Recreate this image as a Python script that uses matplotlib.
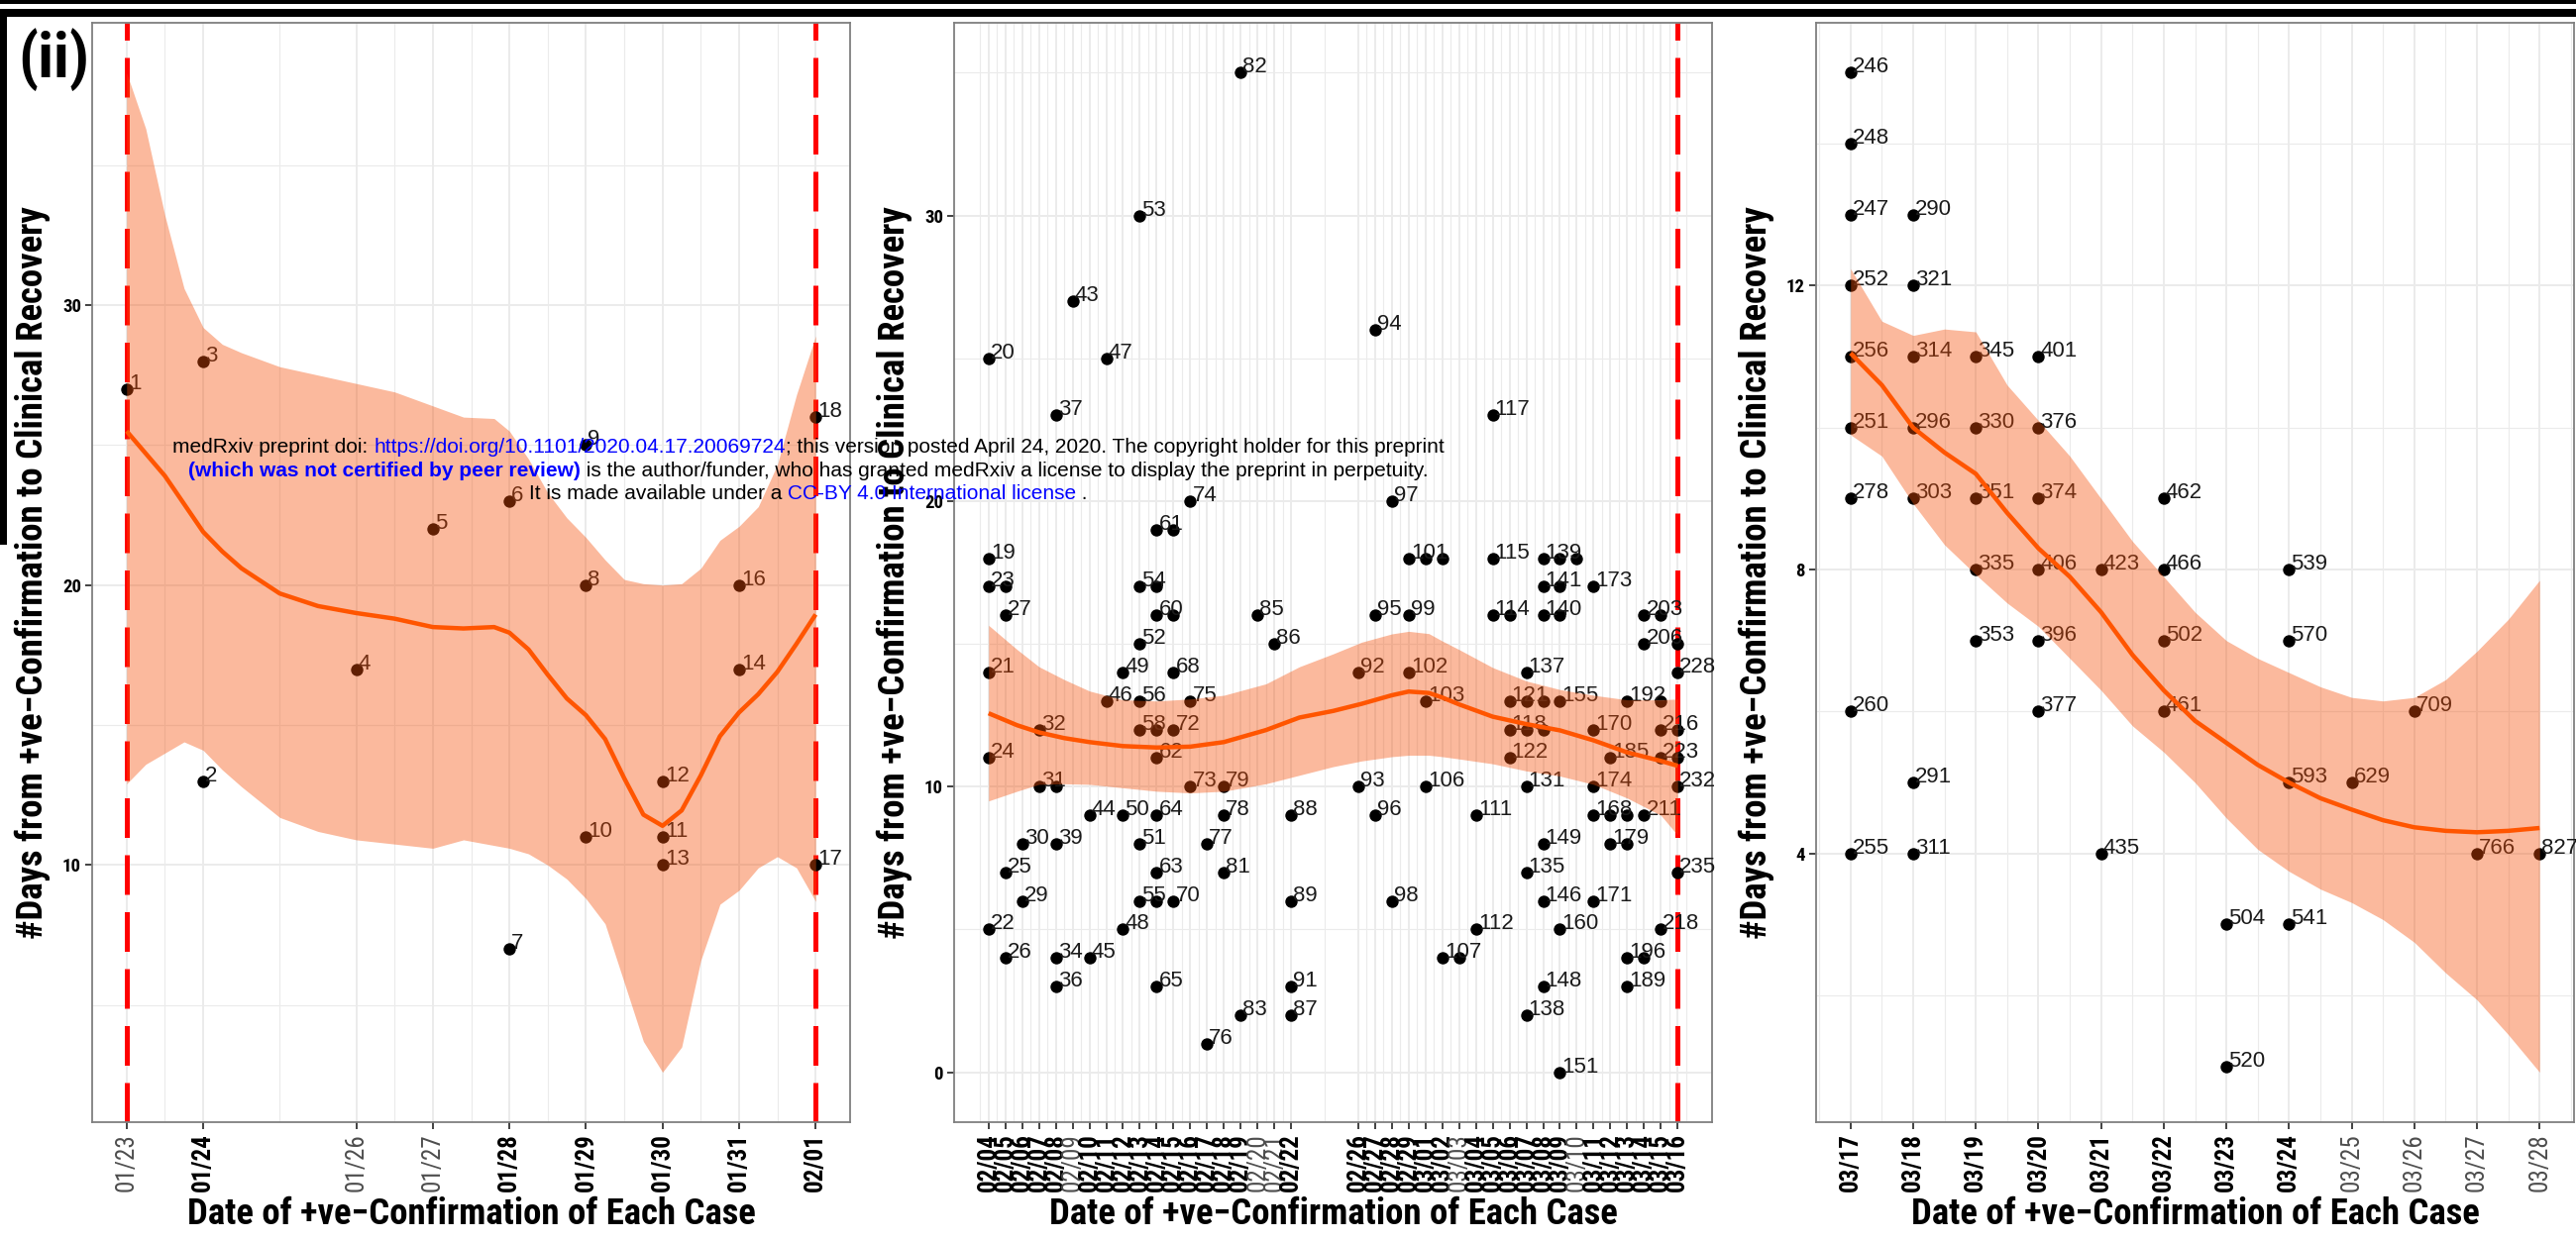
import matplotlib
matplotlib.use("Agg")
import matplotlib.pyplot as plt
import numpy as np
import pandas as pd
from matplotlib.patches import Rectangle

plt.rcParams["font.family"] = ["Liberation Sans", "DejaVu Sans"]
NARROW = ["Roboto Condensed", "Liberation Sans", "DejaVu Sans"]

W, H = 2600, 1254
YEAR = "2020/"

# ---------------- panel 1: cases confirmed 01/23 - 02/01 ----------------
p1_dates = ["01/23", "01/24", "01/24", "01/26", "01/27", "01/28", "01/28", "01/29", "01/29",
            "01/29", "01/30", "01/30", "01/30", "01/31", "01/31", "02/01", "02/01"]
p1_days = [27, 28, 13, 17, 22, 23, 7, 25, 20, 11, 13, 11, 10, 20, 17, 26, 10]
p1_case = ["1", "3", "2", "4", "5", "6", "7", "9", "8", "10", "12", "11", "13", "16", "14",
           "18", "17"]
# loess fit + 95% band (x = days after first date)
p1_sx = [0, 0.25, 0.5, 0.75, 1, 1.25, 1.5, 2, 2.5, 3, 3.5, 4, 4.4, 4.8, 5, 5.25, 5.5, 5.75,
         6, 6.25, 6.5, 6.75, 7, 7.25, 7.5, 7.75, 8, 8.25, 8.5, 8.75, 9]
p1_fit = [25.5, 24.7, 23.9, 22.9, 21.9, 21.2, 20.6, 19.7, 19.25, 19.0, 18.8, 18.5, 18.45,
          18.5, 18.3, 17.7, 16.8, 15.95, 15.35, 14.5, 13.1, 11.8, 11.4, 11.95, 13.2, 14.6,
          15.45, 16.1, 16.9, 17.9, 18.95]
p1_hi = [38.3, 36.3, 33.2, 30.6, 29.2, 28.6, 28.3, 27.8, 27.5, 27.2, 26.9, 26.4, 26.0, 25.95,
         25.5, 24.5, 23.3, 22.4, 21.7, 20.9, 20.2, 20.05, 20.0, 20.05, 20.6, 21.6, 22.1, 22.8,
         24.3, 26.8, 28.9]
p1_lo = [12.9, 13.6, 14.0, 14.4, 14.1, 13.4, 12.8, 11.7, 11.2, 10.9, 10.75, 10.6, 10.9, 10.7,
         10.6, 10.4, 10.0, 9.5, 8.8, 7.9, 5.8, 3.7, 2.6, 3.5, 6.6, 8.6, 9.1, 9.9, 10.3, 9.9,
         8.7]
p1_vlines = ["01/23", "02/01"]
p1_yticks = [10, 20, 30]

# ---------------- panel 2: cases confirmed 02/04 - 03/16 ----------------
p2_dates = (["02/04"] * 6 + ["02/05"] * 4 + ["02/06"] * 2 + ["02/07"] * 2 + ["02/08"] * 5
            + ["02/09"] + ["02/10"] * 2 + ["02/11"] * 2 + ["02/12"] * 3 + ["02/13"] * 7
            + ["02/14"] * 9 + ["02/15"] * 5 + ["02/16"] * 3 + ["02/17"] * 2 + ["02/18"] * 3
            + ["02/19"] * 2 + ["02/20"] + ["02/21"] + ["02/22"] * 4
            + ["02/26"] * 2 + ["02/27"] * 3 + ["02/28"] * 2 + ["02/29"] * 3 + ["03/01"] * 3
            + ["03/02"] * 2 + ["03/03"] + ["03/04"] * 2 + ["03/05"] * 3 + ["03/06"] * 4
            + ["03/07"] * 6 + ["03/08"] * 8 + ["03/09"] * 6 + ["03/10"] + ["03/11"] * 5
            + ["03/12"] * 3 + ["03/13"] * 5 + ["03/14"] * 4 + ["03/15"] * 5 + ["03/16"] * 6)
p2_days = ([25, 18, 17, 14, 11, 5] + [17, 16, 7, 4] + [8, 6] + [12, 10] + [23, 10, 8, 4, 3]
           + [27] + [9, 4] + [25, 13] + [14, 9, 5] + [30, 17, 15, 13, 12, 8, 6]
           + [19, 17, 16, 12, 11, 9, 7, 6, 3] + [19, 16, 14, 12, 6] + [20, 13, 10] + [8, 1]
           + [10, 9, 7] + [35, 2] + [16] + [15] + [9, 6, 3, 2]
           + [14, 10] + [26, 16, 9] + [20, 6] + [18, 16, 14] + [18, 13, 10]
           + [18, 4] + [4] + [9, 5] + [23, 18, 16] + [16, 13, 12, 11]
           + [14, 13, 12, 10, 7, 2] + [18, 17, 16, 13, 12, 8, 6, 3] + [18, 17, 16, 13, 5, 0]
           + [18] + [17, 12, 10, 9, 6] + [11, 9, 8] + [13, 9, 8, 4, 3] + [16, 15, 9, 4]
           + [16, 13, 12, 11, 5] + [15, 14, 12, 11, 10, 7])
p2_case = (["20", "19", "23", "21", "24", "22"] + ["", "27", "25", "26"] + ["30", "29"]
           + ["32", "31"] + ["37", "", "39", "34", "36"] + ["43"] + ["44", "45"] + ["47", "46"]
           + ["49", "50", "48"] + ["53", "54", "52", "56", "58", "51", "55"]
           + ["61", "", "60", "", "62", "64", "63", "", "65"] + ["", "", "68", "72", "70"]
           + ["74", "75", "73"] + ["77", "76"] + ["79", "78", "81"] + ["82", "83"] + ["85"]
           + ["86"] + ["88", "89", "91", "87"]
           + ["92", "93"] + ["94", "95", "96"] + ["97", "98"] + ["101", "99", "102"]
           + ["", "103", "106"] + ["", "107"] + [""] + ["111", "112"] + ["117", "115", "114"]
           + ["", "121", "118", "122"] + ["137", "", "", "131", "135", "138"]
           + ["139", "141", "140", "", "", "149", "146", "148"]
           + ["", "", "", "155", "160", "151"] + [""] + ["173", "170", "174", "168", "171"]
           + ["185", "", "179"] + ["192", "", "", "196", "189"] + ["203", "206", "211", ""]
           + ["", "", "216", "223", "218"] + ["", "228", "", "", "232", "235"])
p2_sx = [0, 1.7, 3, 4.5, 6, 8, 10, 12, 14, 16.5, 18.5, 20.5, 22.2, 24, 25, 26.2, 27, 28, 30,
         32, 34, 36, 38, 40, 41]
p2_fit = [12.57, 12.15, 11.9, 11.7, 11.56, 11.42, 11.37, 11.4, 11.56, 11.98, 12.42, 12.65,
          12.9, 13.2, 13.33, 13.28, 13.12, 12.88, 12.45, 12.19, 11.97, 11.62, 11.2, 10.9, 10.73]
p2_hi = [15.65, 14.8, 14.2, 13.75, 13.35, 13.04, 13.0, 13.07, 13.2, 13.6, 14.2, 14.65, 15.06,
         15.35, 15.44, 15.36, 15.1, 14.8, 14.17, 13.7, 13.4, 13.2, 13.04, 13.04, 13.07]
p2_lo = [9.5, 9.84, 10.08, 10.1, 10.08, 9.96, 9.84, 9.78, 9.84, 10.1, 10.4, 10.7, 10.9, 11.05,
         11.1, 11.1, 11.05, 10.97, 10.8, 10.55, 10.37, 10.08, 9.6, 9.0, 8.3]
p2_vlines = ["03/16"]
p2_yticks = [0, 10, 20, 30]

# ---------------- panel 3: cases confirmed 03/17 - 03/28 ----------------
p3_dates = (["03/17"] * 9 + ["03/18"] * 7 + ["03/19"] * 5 + ["03/20"] * 6 + ["03/21"] * 2
            + ["03/22"] * 4 + ["03/23"] * 2 + ["03/24"] * 4 + ["03/25", "03/26", "03/27",
                                                              "03/28"])
p3_days = ([15, 14, 13, 12, 11, 10, 9, 6, 4] + [13, 12, 11, 10, 9, 5, 4] + [11, 10, 9, 8, 7]
           + [11, 10, 9, 8, 7, 6] + [8, 4] + [9, 8, 7, 6] + [3, 1] + [8, 7, 5, 3] + [5, 6, 4, 4])
p3_case = (["246", "248", "247", "252", "256", "251", "278", "260", "255"]
           + ["290", "321", "314", "296", "303", "291", "311"]
           + ["345", "330", "351", "335", "353"] + ["401", "376", "374", "406", "396", "377"]
           + ["423", "435"] + ["462", "466", "502", "461"] + ["504", "520"]
           + ["539", "570", "593", "541"] + ["629", "709", "766", "827"])
p3_sx = [0, 0.5, 1, 1.5, 2, 2.5, 3, 3.5, 4, 4.5, 5, 5.5, 6, 6.5, 7, 7.5, 8, 8.5, 9, 9.5, 10,
         10.5, 11]
p3_fit = [11.05, 10.6, 10.0, 9.65, 9.35, 8.8, 8.3, 7.9, 7.4, 6.8, 6.3, 5.87, 5.56, 5.25, 5.0,
          4.78, 4.62, 4.47, 4.37, 4.32, 4.3, 4.32, 4.36]
p3_hi = [12.24, 11.5, 11.3, 11.39, 11.35, 10.6, 10.1, 9.6, 9.0, 8.4, 7.9, 7.4, 7.0, 6.75, 6.55,
         6.35, 6.2, 6.15, 6.2, 6.45, 6.85, 7.3, 7.85]
p3_lo = [9.9, 9.6, 8.93, 8.35, 7.93, 7.53, 7.2, 6.75, 6.3, 5.8, 5.43, 5.0, 4.5, 4.06, 3.75, 3.5,
         3.31, 3.07, 2.75, 2.32, 1.94, 1.45, 0.92]
p3_vlines = []
p3_yticks = [4, 8, 12]

XLABEL = "Date of +ve\u2212Confirmation of Each Case"
YLABEL = "#Days from +ve\u2212Confirmation to Clinical Recovery"


def to_offset(dates, start):
    d = pd.to_datetime([YEAR + s for s in dates])
    return np.asarray((d - pd.Timestamp(YEAR + start)).days, dtype=float)


def mid_breaks(b, lo, hi):
    b = np.asarray(b, dtype=float)
    bd = b[1] - b[0]
    ext = np.concatenate([[b[0] - bd], b, [b[-1] + bd]])
    mids = (ext[:-1] + ext[1:]) / 2
    return mids[(mids > lo) & (mids < hi)]


def draw_panel(ax, dates, days, cases, sx, sfit, slo, shi, vdates, yticks):
    start = min(dates)
    x = to_offset(dates, start)

    xa = np.concatenate([x, sx])
    pad = 0.05 * (xa.max() - xa.min())
    xlim = (xa.min() - pad, xa.max() + pad)
    ya = np.concatenate([days, slo, shi])
    pad = 0.05 * (ya.max() - ya.min())
    ylim = (ya.min() - pad, ya.max() + pad)

    for v in to_offset(vdates, start) if vdates else []:
        ax.axvline(v, color="#FF0000", lw=3.6, dashes=(8, 3.5), zorder=2.5)

    ax.scatter(x, days, s=80, c="black", linewidths=0, zorder=3)
    for xi, yi, c in zip(x, days, cases):
        if c:
            ax.annotate(c, (xi, yi), xytext=(1.5, 0), textcoords="offset points",
                        ha="left", va="baseline", fontsize=16, color="#1a1a1a", zorder=4)

    ax.fill_between(sx, slo, shi, color="#F5500A", alpha=0.4, lw=0, zorder=5)
    ax.plot(sx, sfit, color="#FF5500", lw=3.2, zorder=6, solid_capstyle="butt")

    uniq = sorted(set(dates))
    pos = to_offset(uniq, start)
    counts = [dates.count(u) for u in uniq]
    ax.set_xticks(pos)
    ax.set_xticklabels(uniq, rotation=90, fontsize=18, family=NARROW)
    for lab, n in zip(ax.get_xticklabels(), counts):
        lab.set_fontweight("bold" if n > 1 else "normal")
        lab.set_color("black" if n > 1 else "#4d4d4d")
    ax.set_xticks(mid_breaks(pos, *xlim), minor=True)
    ax.set_yticks(yticks)
    ax.set_yticklabels([str(t) for t in yticks], fontsize=13.5, fontweight="bold",
                       family=NARROW)
    ax.set_yticks(mid_breaks(yticks, *ylim), minor=True)
    ax.set_xlim(xlim)
    ax.set_ylim(ylim)

    ax.grid(which="major", color="#EBEBEB", lw=1.4)
    ax.grid(which="minor", color="#EBEBEB", lw=0.8)
    ax.set_axisbelow(True)
    ax.tick_params(which="major", length=5, width=1.3, color="#333333", pad=3)
    ax.tick_params(which="minor", length=0)
    for s in ax.spines.values():
        s.set_color("#7f7f7f")
        s.set_linewidth(1.3)

    ax.set_xlabel(XLABEL, fontsize=26.5, fontweight="bold", family=NARROW)
    ax.set_ylabel(YLABEL, fontsize=26.5, fontweight="bold", family=NARROW)
    ax.xaxis.label.set_va("center")
    ax.yaxis.label.set_va("center")
    ax.xaxis.set_label_coords(0.5, -(1226 - 1133) / 1110)
    ax.yaxis.set_label_coords(-60 / 765, 0.5)


fig = plt.figure(figsize=(W / 100, H / 100), dpi=100)
panels = [
    (93, p1_dates, p1_days, p1_case, p1_sx, p1_fit, p1_lo, p1_hi, p1_vlines, p1_yticks),
    (963, p2_dates, p2_days, p2_case, p2_sx, p2_fit, p2_lo, p2_hi, p2_vlines, p2_yticks),
    (1833, p3_dates, p3_days, p3_case, p3_sx, p3_fit, p3_lo, p3_hi, p3_vlines, p3_yticks),
]
for left, *args in panels:
    ax = fig.add_axes([left / W, (H - 1133) / H, 765 / W, 1110 / H])
    draw_panel(ax, *args)

# frame remnants of the source page
fig.add_artist(Rectangle((0, 1 - 4 / H), 1, 4 / H, transform=fig.transFigure,
                         color="black", lw=0, zorder=10))
fig.add_artist(Rectangle((0, 1 - 17 / H), 1, 8 / H, transform=fig.transFigure,
                         color="black", lw=0, zorder=10))
fig.add_artist(Rectangle((0, 1 - 550 / H), 7 / W, 533 / H, transform=fig.transFigure,
                         color="black", lw=0, zorder=10))

fig.text(18 / W, 1 - 60 / H, "(ii)", fontsize=45, fontweight="bold", family=NARROW,
         va="center", ha="left", zorder=11)

# medRxiv watermark
BLUE = "#0000FF"
header = [
    [("medRxiv preprint doi: ", "black", "normal"),
     ("https://doi.org/10.1101/2020.04.17.20069724", BLUE, "normal"),
     ("; this version posted April 24, 2020. The copyright holder for this preprint",
      "black", "normal")],
    [("(which was not certified by peer review)", BLUE, "bold"),
     (" is the author/funder, who has granted medRxiv a license to display the preprint in "
      "perpetuity.", "black", "normal")],
    [("It is made available under a ", "black", "normal"),
     ("CC-BY 4.0 International license", BLUE, "normal"),
     (" .", "black", "normal")],
]
baselines = [461, 485, 508]
renderer = fig.canvas.get_renderer()
for pieces, yb in zip(header, baselines):
    txt, col, wt = pieces[0]
    first = fig.text(0.3, 1 - yb / H, txt, color=col, fontweight=wt, fontsize=15,
                     va="bottom", ha="left", zorder=20)
    prev = first
    for txt, col, wt in pieces[1:]:
        prev = fig.add_artist(matplotlib.text.Annotation(
            txt, xy=(1, 0), xycoords=prev, va="bottom", ha="left", color=col,
            fontweight=wt, fontsize=15, zorder=20))
    x0 = first.get_window_extent(renderer).x0
    x1 = prev.get_window_extent(renderer).x1
    first.set_x((816 - (x1 - x0) / 2) / W)

fig.savefig("out.png", dpi=100)
